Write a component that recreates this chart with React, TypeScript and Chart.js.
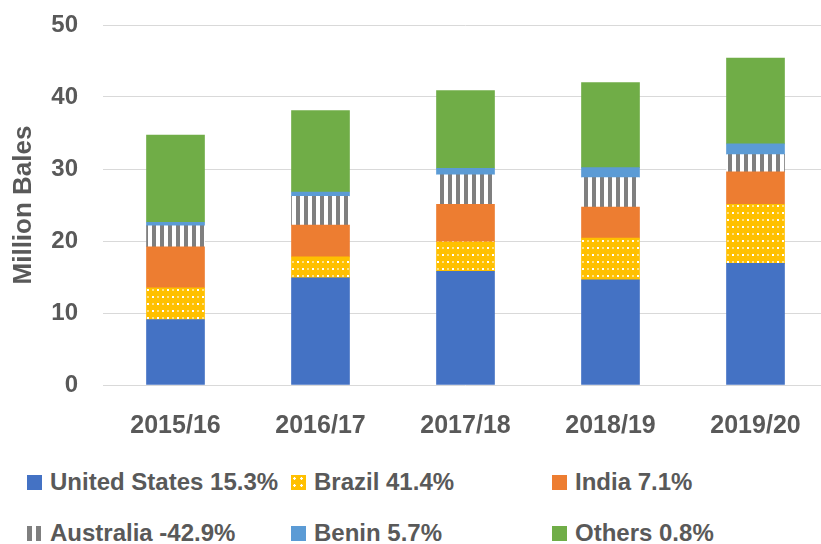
import React, { useEffect, useRef } from "react";
import { Chart, registerables } from "chart.js";

Chart.register(...registerables);

const categories = ["2015/16", "2016/17", "2017/18", "2018/19", "2019/20"];
const unitedStates = [9.1, 14.9, 15.8, 14.6, 16.9];
const brazil = [4.4, 2.9, 4.1, 5.8, 8.2];
const india = [5.7, 4.4, 5.2, 4.3, 4.5];
const australia = [2.9, 4.0, 4.1, 4.1, 2.4];
const benin = [0.5, 0.6, 0.9, 1.4, 1.5];
const others = [12.1, 11.3, 10.8, 11.8, 11.9];
const seriesLabels = [
  "United States 15.3%",
  "Brazil 41.4%",
  "India 7.1%",
  "Australia -42.9%",
  "Benin 5.7%",
  "Others 0.8%",
];
const yMin = 0;
const yMax = 50;
const yStep = 10;
const yTitle = "Million Bales";

const FONT = "'Liberation Sans', Arial, sans-serif";
const TEXT = "#595959";
const C_BLUE = "#4472C4";
const C_YELLOW = "#FFC000";
const C_ORANGE = "#ED7D31";
const C_GRAY = "#7F7F7F";
const C_LBLUE = "#5B9BD5";
const C_GREEN = "#70AD47";

function makeDots(): CanvasPattern | string {
  const c = document.createElement("canvas");
  c.width = 10;
  c.height = 14;
  const g = c.getContext("2d");
  if (!g) return C_YELLOW;
  g.fillStyle = C_YELLOW;
  g.fillRect(0, 0, 10, 14);
  g.fillStyle = "#FFFFFF";
  g.fillRect(2, 2, 2, 2);
  g.fillRect(7, 9, 2, 2);
  g.fillStyle = "#FFE080";
  g.fillRect(7, 2, 2, 2);
  g.fillRect(2, 9, 2, 2);
  return g.createPattern(c, "repeat") || C_YELLOW;
}

function makeStripes(): CanvasPattern | string {
  const c = document.createElement("canvas");
  c.width = 8;
  c.height = 8;
  const g = c.getContext("2d");
  if (!g) return C_GRAY;
  g.fillStyle = "#FFFFFF";
  g.fillRect(0, 0, 8, 8);
  g.fillStyle = C_GRAY;
  g.fillRect(0, 0, 4, 8);
  return g.createPattern(c, "repeat") || C_GRAY;
}

export default function App() {
  const ref = useRef<HTMLCanvasElement | null>(null);

  useEffect(() => {
    if (!ref.current) return;
    const dots = makeDots();
    const stripes = makeStripes();
    const values = [unitedStates, brazil, india, australia, benin, others];
    const fills: any[] = [C_BLUE, dots, C_ORANGE, stripes, C_LBLUE, C_GREEN];
    const chart = new Chart(ref.current, {
      type: "bar",
      data: {
        labels: categories,
        datasets: values.map((v, i) => ({
          label: seriesLabels[i],
          data: v,
          backgroundColor: fills[i],
          borderWidth: 0,
          barThickness: 58,
        })),
      },
      options: {
        animation: false,
        responsive: false,
        maintainAspectRatio: false,
        layout: { padding: { top: 25, right: 4, left: 0, bottom: 0 } },
        plugins: {
          legend: { display: false },
          tooltip: { enabled: false },
        },
        scales: {
          x: {
            stacked: true,
            grid: { display: false },
            border: { display: false },
            ticks: {
              color: TEXT,
              font: { family: FONT, size: 25, weight: "bold" },
              padding: 18,
              maxRotation: 0,
              autoSkip: false,
            },
            afterFit: (s: any) => {
              s.height = 65;
            },
          },
          y: {
            stacked: true,
            min: yMin,
            max: yMax,
            ticks: {
              stepSize: yStep,
              color: TEXT,
              font: { family: FONT, size: 24, weight: "bold" },
              padding: 25,
            },
            grid: { color: "#D9D9D9", lineWidth: 1, drawTicks: false },
            border: { display: false },
            title: {
              display: true,
              text: yTitle,
              color: TEXT,
              font: { family: FONT, size: 26, weight: "bold" },
              padding: { top: 8, bottom: 0 },
            },
            afterFit: (s: any) => {
              s.width = 103;
              s.paddingTop = 0;
              s.paddingBottom = 0;
            },
          },
        },
      },
    });
    return () => chart.destroy();
  }, []);

  const boxBase: React.CSSProperties = { width: 15, height: 15, flex: "0 0 auto" };
  const markers: React.CSSProperties[] = [
    { ...boxBase, background: C_BLUE },
    {
      ...boxBase,
      backgroundColor: C_YELLOW,
      backgroundImage: "radial-gradient(circle, #ffffff 1px, transparent 1.5px)",
      backgroundSize: "7px 7px",
    },
    { ...boxBase, background: C_ORANGE },
    {
      ...boxBase,
      background: `linear-gradient(90deg, ${C_GRAY} 0 5px, #ffffff 5px 9px, ${C_GRAY} 9px 14px, #ffffff 14px 15px)`,
    },
    { ...boxBase, background: C_LBLUE },
    { ...boxBase, background: C_GREEN },
  ];
  const colX = [27, 291, 552];
  const rowY = [482, 533];

  return (
    <div
      style={{
        position: "absolute",
        left: 0,
        top: 0,
        width: 821,
        height: 544,
        overflow: "hidden",
        background: "#ffffff",
      }}
    >
      <canvas
        ref={ref}
        width={832}
        height={450}
        style={{ position: "absolute", left: 0, top: 0, width: 832, height: 450 }}
      />
      {seriesLabels.map((lab, i) => (
        <div
          key={lab}
          style={{
            position: "absolute",
            left: colX[i % 3],
            top: rowY[Math.floor(i / 3)] - 15,
            height: 30,
            display: "flex",
            alignItems: "center",
            whiteSpace: "nowrap",
            fontFamily: FONT,
            fontWeight: "bold",
            fontSize: 24,
            color: TEXT,
          }}
        >
          <span style={markers[i]} />
          <span style={{ marginLeft: 8, lineHeight: "30px" }}>{lab}</span>
        </div>
      ))}
    </div>
  );
}
